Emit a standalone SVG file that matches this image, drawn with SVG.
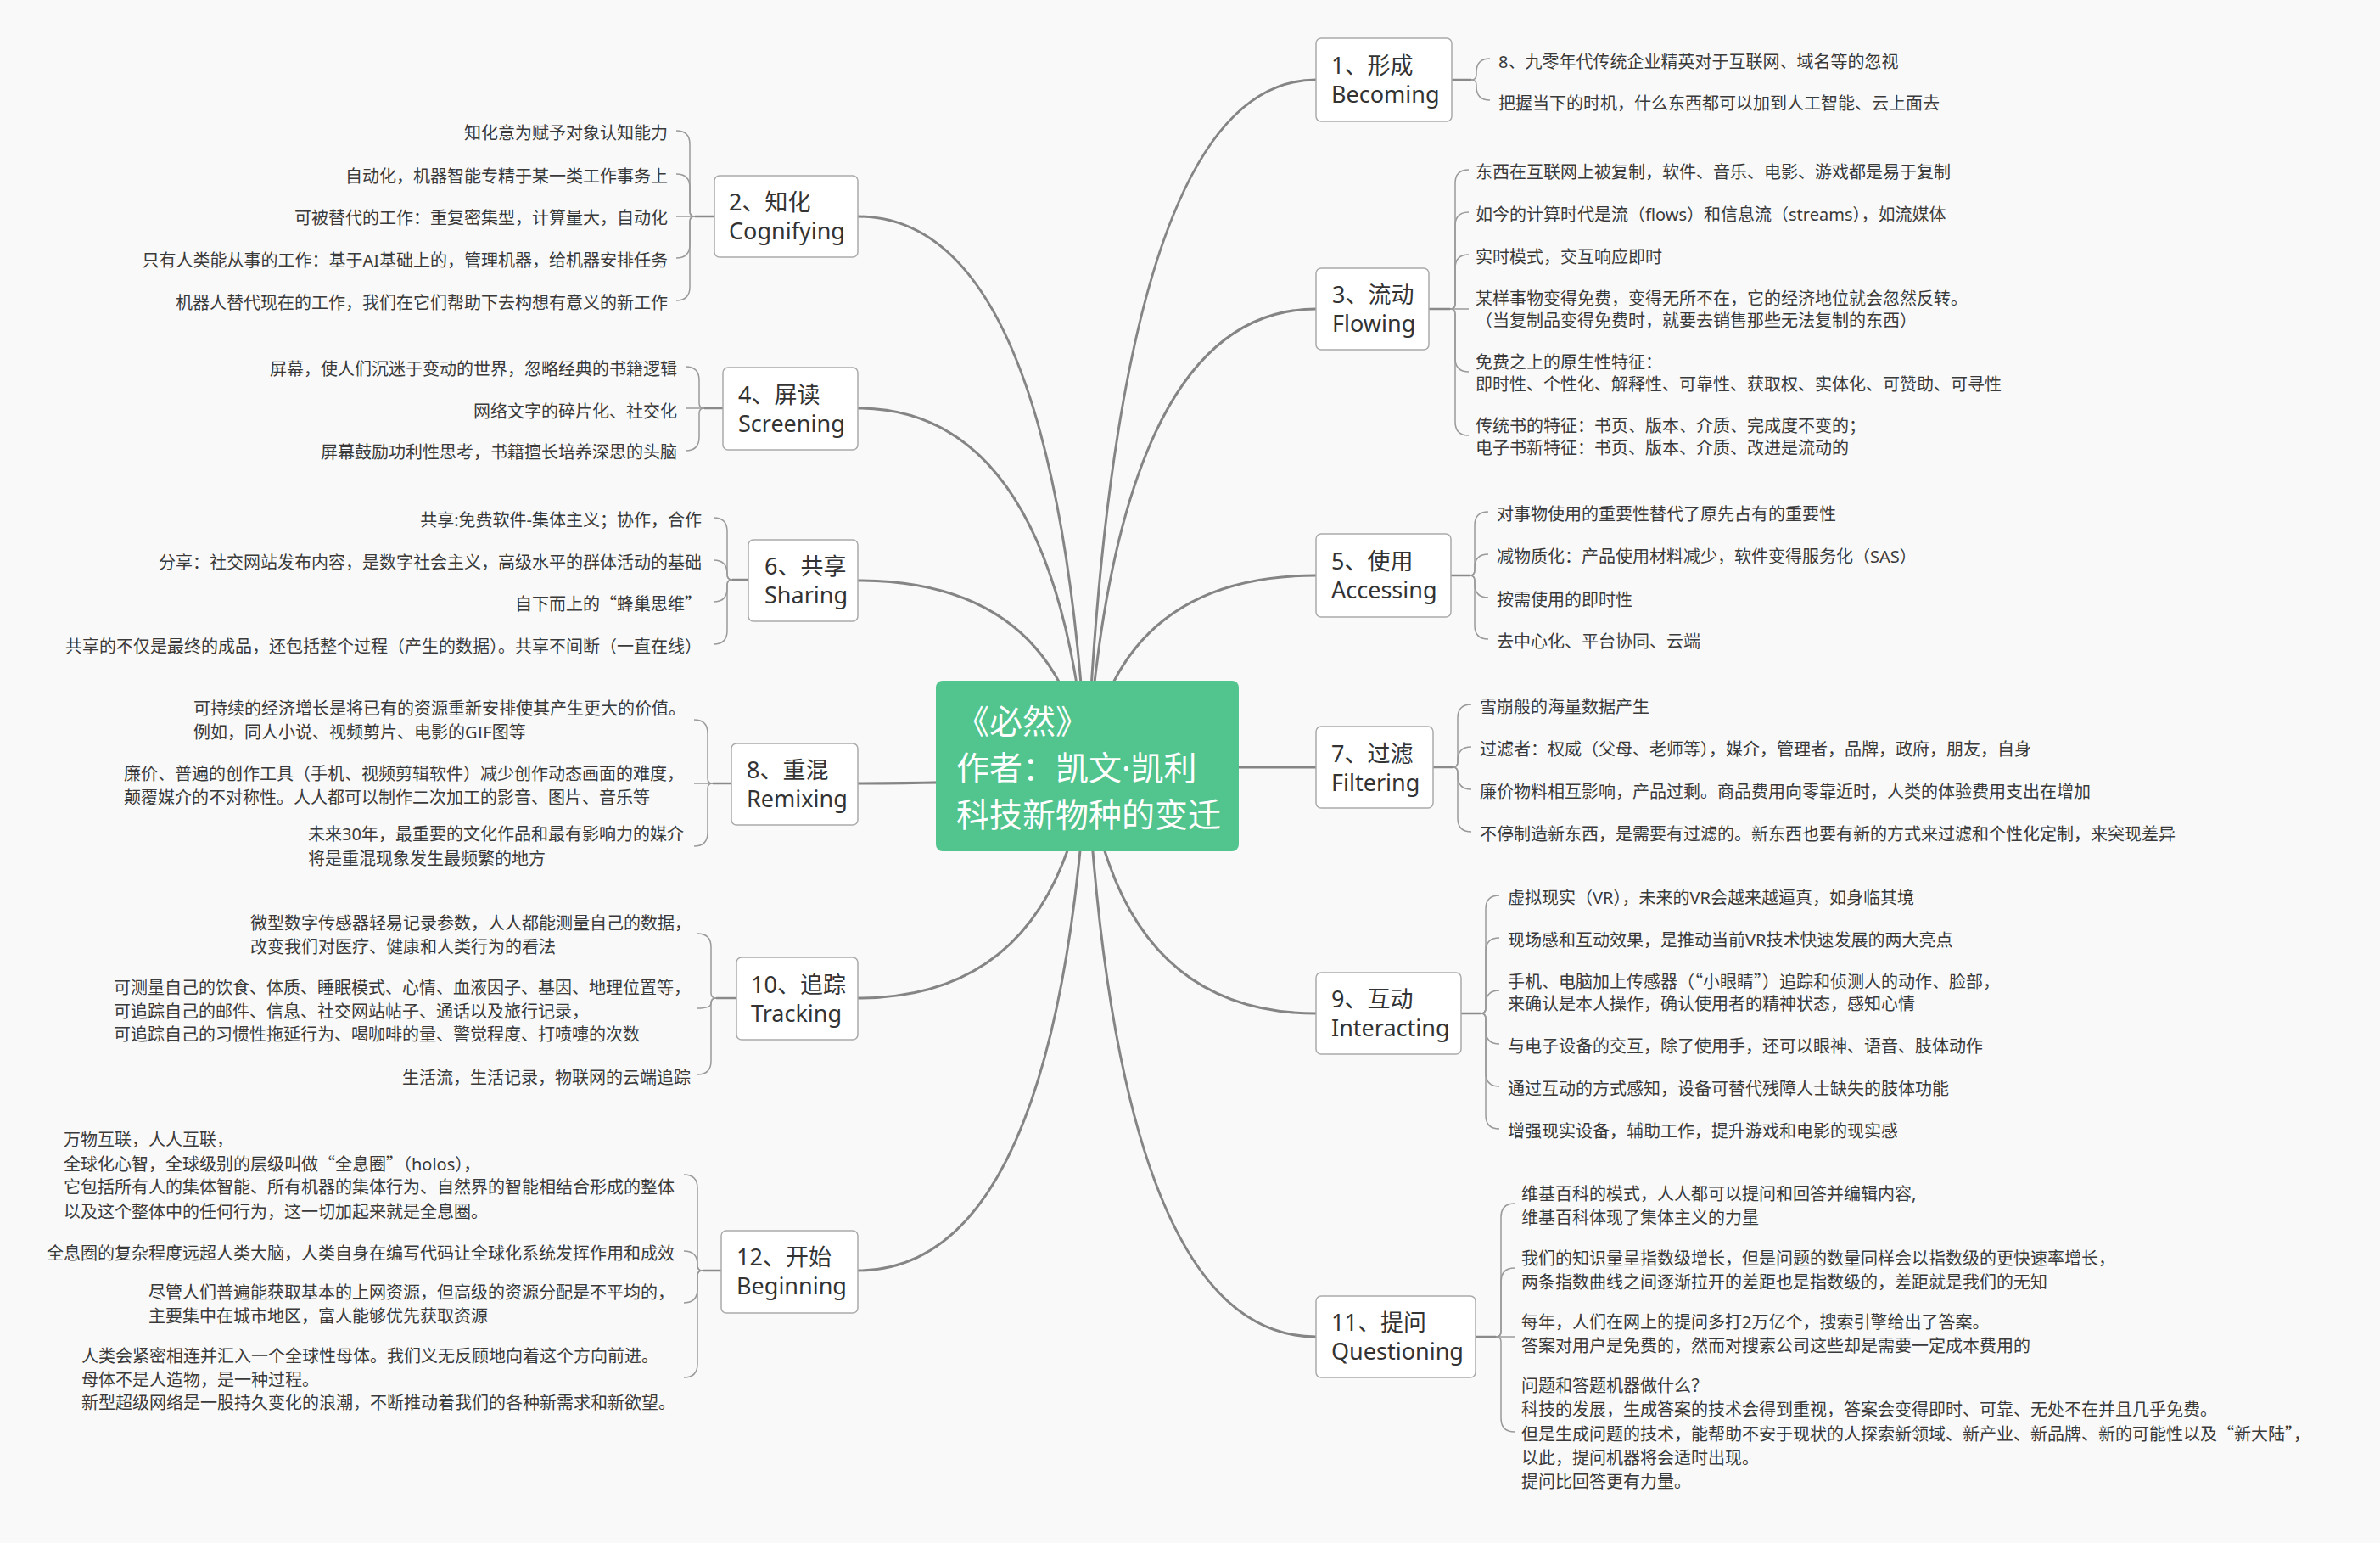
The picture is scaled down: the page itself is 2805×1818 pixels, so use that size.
<svg xmlns="http://www.w3.org/2000/svg" width="2805" height="1818" viewBox="0 0 2805 1818">
<style>
.bg{fill:#F9F9F9}
.main{fill:none;stroke:#858585;stroke-width:3;stroke-linecap:round}
.stub{fill:none;stroke:#8a8a8a;stroke-width:2.5}
.br{fill:none;stroke:#9a9a9a;stroke-width:1.5}
.box{fill:#ffffff;stroke:#aaaaaa;stroke-width:1.5}
.nt{font-family:"Noto Sans","Noto Sans CJK SC",sans-serif;font-size:27px;fill:#333333}
.lf{font-family:"Noto Sans","Noto Sans CJK SC",sans-serif;font-size:20px;fill:#3a3a3a}
.q{font-family:"Noto Sans CJK SC",sans-serif}
.end{text-anchor:end}
.ct{font-family:"Noto Sans","Noto Sans CJK SC",sans-serif;font-size:39px;fill:#ffffff}
</style>
<rect class="bg" x="0" y="0" width="2805" height="1818"/>
<g id="connectors">
<path class="main" d="M1281,903 Q1318,94 1551,94"/>
<path class="main" d="M1281,903 Q1318,364 1551,364"/>
<path class="main" d="M1281,903 Q1318,678 1551,678"/>
<path class="main" d="M1281,903 Q1318,904 1551,904"/>
<path class="main" d="M1281,903 Q1318,1194 1551,1194"/>
<path class="main" d="M1281,903 Q1318,1575 1551,1575"/>
<path class="main" d="M1281,903 Q1244,255 1011,255"/>
<path class="main" d="M1281,903 Q1244,481 1011,481"/>
<path class="main" d="M1281,903 Q1244,684 1011,684"/>
<path class="main" d="M1281,903 Q1244,923 1011,923"/>
<path class="main" d="M1281,903 Q1244,1176 1011,1176"/>
<path class="main" d="M1281,903 Q1244,1497 1011,1497"/>
<!-- node 1 -->
<path class="stub" d="M1711,94 L1734,94"/>
<path class="br" d="M1734,94 Q1740,94 1740,88 L1740,85 Q1740,69 1756,69"/>
<path class="br" d="M1734,94 Q1740,94 1740,100 L1740,102 Q1740,118 1756,118"/>
<!-- node 3 -->
<path class="stub" d="M1684,364 L1709,364"/>
<path class="br" d="M1709,364 Q1715,364 1715,358 L1715,216 Q1715,200 1731,200"/>
<path class="br" d="M1709,364 Q1715,364 1715,358 L1715,266 Q1715,250 1731,250"/>
<path class="br" d="M1709,364 Q1715,364 1715,358 L1715,316 Q1715,300 1731,300"/>
<path class="br" d="M1709,364 L1731,364"/>
<path class="br" d="M1709,364 Q1715,364 1715,370 L1715,422 Q1715,438 1731,438"/>
<path class="br" d="M1709,364 Q1715,364 1715,370 L1715,497 Q1715,513 1731,513"/>
<!-- node 5 -->
<path class="stub" d="M1710,678 L1732,678"/>
<path class="br" d="M1732,678 Q1738,678 1738,672 L1738,619 Q1738,603 1754,603"/>
<path class="br" d="M1732,678 Q1738,678 1738,672 L1738,669 Q1738,653 1754,653"/>
<path class="br" d="M1732,678 Q1738,678 1738,684 L1738,688 Q1738,704 1754,704"/>
<path class="br" d="M1732,678 Q1738,678 1738,684 L1738,737 Q1738,753 1754,753"/>
<!-- node 7 -->
<path class="stub" d="M1689,904 L1712,904"/>
<path class="br" d="M1712,904 Q1718,904 1718,898 L1718,846 Q1718,830 1734,830"/>
<path class="br" d="M1712,904 Q1718,904 1718,898 L1718,896 Q1718,880 1734,880"/>
<path class="br" d="M1712,904 Q1718,904 1718,910 L1718,914 Q1718,930 1734,930"/>
<path class="br" d="M1712,904 Q1718,904 1718,910 L1718,964 Q1718,980 1734,980"/>
<!-- node 9 -->
<path class="stub" d="M1722,1194 L1745,1194"/>
<path class="br" d="M1745,1194 Q1751,1194 1751,1188 L1751,1071 Q1751,1055 1767,1055"/>
<path class="br" d="M1745,1194 Q1751,1194 1751,1188 L1751,1121 Q1751,1105 1767,1105"/>
<path class="br" d="M1745,1194 Q1751,1194 1751,1188 L1751,1183 Q1751,1167 1767,1167"/>
<path class="br" d="M1745,1194 Q1751,1194 1751,1200 L1751,1214 Q1751,1230 1767,1230"/>
<path class="br" d="M1745,1194 Q1751,1194 1751,1200 L1751,1264 Q1751,1280 1767,1280"/>
<path class="br" d="M1745,1194 Q1751,1194 1751,1200 L1751,1314 Q1751,1330 1767,1330"/>
<!-- node 11 -->
<path class="stub" d="M1739,1575 L1763,1575"/>
<path class="br" d="M1763,1575 Q1769,1575 1769,1569 L1769,1434 Q1769,1418 1785,1418"/>
<path class="br" d="M1763,1575 Q1769,1575 1769,1569 L1769,1510 Q1769,1494 1785,1494"/>
<path class="br" d="M1763,1575 L1785,1575"/>
<path class="br" d="M1763,1575 Q1769,1575 1769,1581 L1769,1671 Q1769,1687 1785,1687"/>
<!-- node 2 -->
<path class="stub" d="M842,255 L819,255"/>
<path class="br" d="M819,255 Q813,255 813,249 L813,170 Q813,154 797,154"/>
<path class="br" d="M819,255 Q813,255 813,249 L813,221 Q813,205 797,205"/>
<path class="br" d="M819,255 L797,255"/>
<path class="br" d="M819,255 Q813,255 813,261 L813,288 Q813,304 797,304"/>
<path class="br" d="M819,255 Q813,255 813,261 L813,338 Q813,354 797,354"/>
<!-- node 4 -->
<path class="stub" d="M852,481 L830,481"/>
<path class="br" d="M830,481 Q824,481 824,475 L824,448 Q824,432 808,432"/>
<path class="br" d="M830,481 L808,481"/>
<path class="br" d="M830,481 Q824,481 824,487 L824,515 Q824,531 808,531"/>
<!-- node 6 -->
<path class="stub" d="M882,683 L863,683"/>
<path class="br" d="M863,683 Q857,683 857,677 L857,626 Q857,610 841,610"/>
<path class="br" d="M863,683 Q857,683 857,677 L857,676 Q857,660 841,660"/>
<path class="br" d="M863,683 Q857,683 857,689 L857,693 Q857,709 841,709"/>
<path class="br" d="M863,683 Q857,683 857,689 L857,743 Q857,759 841,759"/>
<!-- node 8 -->
<path class="stub" d="M862,923 L840,923"/>
<path class="br" d="M840,923 Q834,923 834,917 L834,864 Q834,848 818,848"/>
<path class="br" d="M840,923 L818,923"/>
<path class="br" d="M840,923 Q834,923 834,929 L834,981 Q834,997 818,997"/>
<!-- node 10 -->
<path class="stub" d="M868,1176 L844,1176"/>
<path class="br" d="M844,1176 Q838,1176 838,1170 L838,1116 Q838,1100 822,1100"/>
<path class="br" d="M844,1176 Q838,1176 838,1182 Q838,1188 822,1188"/>
<path class="br" d="M844,1176 Q838,1176 838,1182 L838,1250 Q838,1266 822,1266"/>
<!-- node 12 -->
<path class="stub" d="M850,1497 L828,1497"/>
<path class="br" d="M828,1497 Q822,1497 822,1491 L822,1400 Q822,1384 806,1384"/>
<path class="br" d="M828,1497 Q822,1497 822,1491 L822,1490 Q822,1474 806,1474"/>
<path class="br" d="M828,1497 Q822,1497 822,1503 L822,1519 Q822,1535 806,1535"/>
<path class="br" d="M828,1497 Q822,1497 822,1503 L822,1607 Q822,1623 806,1623"/>
</g>

<g id="root">
<rect x="1103" y="802" width="357" height="201" rx="8" fill="#52C48E"/>
<text class="ct" x="1127" y="864">《必然》</text>
<text class="ct" x="1127" y="919">作者：凯文·凯利</text>
<text class="ct" x="1127" y="974">科技新物种的变迁</text>
</g>

<g id="n1">
<rect class="box" x="1551" y="45" width="160" height="98" rx="6"/>
<text class="nt" x="1569" y="87">1、形成</text>
<text class="nt" x="1569" y="121">Becoming</text>
<text class="lf" x="1766" y="80">8、九零年代传统企业精英对于互联网、域名等的忽视</text>
<text class="lf" x="1766" y="129">把握当下的时机，什么东西都可以加到人工智能、云上面去</text>
</g>

<g id="n3">
<rect class="box" x="1551" y="316" width="133" height="96" rx="6"/>
<text class="nt" x="1570" y="357">3、流动</text>
<text class="nt" x="1570" y="391">Flowing</text>
<text class="lf" x="1739" y="210">东西在互联网上被复制，软件、音乐、电影、游戏都是易于复制</text>
<text class="lf" x="1739" y="260">如今的计算时代是流（flows）和信息流（streams），如流媒体</text>
<text class="lf" x="1739" y="310">实时模式，交互响应即时</text>
<text class="lf" x="1739" y="359">某样事物变得免费，变得无所不在，它的经济地位就会忽然反转。</text>
<text class="lf" x="1739" y="385">（当复制品变得免费时，就要去销售那些无法复制的东西）</text>
<text class="lf" x="1739" y="434">免费之上的原生性特征：</text>
<text class="lf" x="1739" y="460">即时性、个性化、解释性、可靠性、获取权、实体化、可赞助、可寻性</text>
<text class="lf" x="1739" y="509">传统书的特征：书页、版本、介质、完成度不变的；</text>
<text class="lf" x="1739" y="535">电子书新特征：书页、版本、介质、改进是流动的</text>
</g>

<g id="n5">
<rect class="box" x="1551" y="629" width="159" height="98" rx="6"/>
<text class="nt" x="1569" y="671">5、使用</text>
<text class="nt" x="1569" y="705">Accessing</text>
<text class="lf" x="1764" y="613">对事物使用的重要性替代了原先占有的重要性</text>
<text class="lf" x="1764" y="663">减物质化：产品使用材料减少，软件变得服务化（SAS）</text>
<text class="lf" x="1764" y="714">按需使用的即时性</text>
<text class="lf" x="1764" y="763">去中心化、平台协同、云端</text>
</g>

<g id="n7">
<rect class="box" x="1551" y="856" width="138" height="96" rx="6"/>
<text class="nt" x="1569" y="898">7、过滤</text>
<text class="nt" x="1569" y="932">Filtering</text>
<text class="lf" x="1744" y="840">雪崩般的海量数据产生</text>
<text class="lf" x="1744" y="890">过滤者：权威（父母、老师等），媒介，管理者，品牌，政府，朋友，自身</text>
<text class="lf" x="1744" y="940">廉价物料相互影响，产品过剩。商品费用向零靠近时，人类的体验费用支出在增加</text>
<text class="lf" x="1744" y="990">不停制造新东西，是需要有过滤的。新东西也要有新的方式来过滤和个性化定制，来突现差异</text>
</g>

<g id="n9">
<rect class="box" x="1551" y="1146" width="171" height="96" rx="6"/>
<text class="nt" x="1569" y="1187">9、互动</text>
<text class="nt" x="1569" y="1221">Interacting</text>
<text class="lf" x="1777" y="1065">虚拟现实（VR），未来的VR会越来越逼真，如身临其境</text>
<text class="lf" x="1777" y="1115">现场感和互动效果，是推动当前VR技术快速发展的两大亮点</text>
<text class="lf" x="1777" y="1164">手机、电脑加上传感器（<tspan class="q">“</tspan>小眼睛<tspan class="q">”</tspan>）追踪和侦测人的动作、脸部，</text>
<text class="lf" x="1777" y="1190">来确认是本人操作，确认使用者的精神状态，感知心情</text>
<text class="lf" x="1777" y="1240">与电子设备的交互，除了使用手，还可以眼神、语音、肢体动作</text>
<text class="lf" x="1777" y="1290">通过互动的方式感知，设备可替代残障人士缺失的肢体功能</text>
<text class="lf" x="1777" y="1340">增强现实设备，辅助工作，提升游戏和电影的现实感</text>
</g>

<g id="n11">
<rect class="box" x="1551" y="1527" width="188" height="96" rx="6"/>
<text class="nt" x="1569" y="1568">11、提问</text>
<text class="nt" x="1569" y="1602">Questioning</text>
<text class="lf" x="1793" y="1414">维基百科的模式，人人都可以提问和回答并编辑内容,</text>
<text class="lf" x="1793" y="1442">维基百科体现了集体主义的力量</text>
<text class="lf" x="1793" y="1490">我们的知识量呈指数级增长，但是问题的数量同样会以指数级的更快速率增长，</text>
<text class="lf" x="1793" y="1518">两条指数曲线之间逐渐拉开的差距也是指数级的，差距就是我们的无知</text>
<text class="lf" x="1793" y="1565">每年，人们在网上的提问多打2万亿个，搜索引擎给出了答案。</text>
<text class="lf" x="1793" y="1593">答案对用户是免费的，然而对搜索公司这些却是需要一定成本费用的</text>
<text class="lf" x="1793" y="1640">问题和答题机器做什么？</text>
<text class="lf" x="1793" y="1668">科技的发展，生成答案的技术会得到重视，答案会变得即时、可靠、无处不在并且几乎免费。</text>
<text class="lf" x="1793" y="1697">但是生成问题的技术，能帮助不安于现状的人探索新领域、新产业、新品牌、新的可能性以及<tspan class="q">“</tspan>新大陆<tspan class="q">”</tspan>，</text>
<text class="lf" x="1793" y="1725">以此，提问机器将会适时出现。</text>
<text class="lf" x="1793" y="1753">提问比回答更有力量。</text>
</g>

<g id="n2">
<rect class="box" x="842" y="207" width="169" height="96" rx="6"/>
<text class="nt" x="859" y="248">2、知化</text>
<text class="nt" x="859" y="282">Cognifying</text>
<text class="lf end" x="787" y="164">知化意为赋予对象认知能力</text>
<text class="lf end" x="787" y="215">自动化，机器智能专精于某一类工作事务上</text>
<text class="lf end" x="787" y="264">可被替代的工作：重复密集型，计算量大，自动化</text>
<text class="lf end" x="787" y="314">只有人类能从事的工作：基于AI基础上的，管理机器，给机器安排任务</text>
<text class="lf end" x="787" y="364">机器人替代现在的工作，我们在它们帮助下去构想有意义的新工作</text>
</g>

<g id="n4">
<rect class="box" x="852" y="433" width="159" height="97" rx="6"/>
<text class="nt" x="870" y="475">4、屏读</text>
<text class="nt" x="870" y="509">Screening</text>
<text class="lf end" x="798" y="442">屏幕，使人们沉迷于变动的世界，忽略经典的书籍逻辑</text>
<text class="lf end" x="798" y="492">网络文字的碎片化、社交化</text>
<text class="lf end" x="798" y="540">屏幕鼓励功利性思考，书籍擅长培养深思的头脑</text>
</g>

<g id="n6">
<rect class="box" x="882" y="636" width="129" height="96" rx="6"/>
<text class="nt" x="901" y="677">6、共享</text>
<text class="nt" x="901" y="711">Sharing</text>
<text class="lf end" x="827" y="620">共享:免费软件-集体主义；协作，合作</text>
<text class="lf end" x="827" y="670">分享：社交网站发布内容，是数字社会主义，高级水平的群体活动的基础</text>
<text class="lf end" x="827" y="719">自下而上的<tspan class="q">“</tspan>蜂巢思维<tspan class="q">”</tspan></text>
<text class="lf end" x="827" y="769">共享的不仅是最终的成品，还包括整个过程（产生的数据）。共享不间断（一直在线）</text>
</g>

<g id="n8">
<rect class="box" x="862" y="876" width="149" height="96" rx="6"/>
<text class="nt" x="880" y="917">8、重混</text>
<text class="nt" x="880" y="951">Remixing</text>
<text class="lf" x="228" y="842">可持续的经济增长是将已有的资源重新安排使其产生更大的价值。</text>
<text class="lf" x="228" y="870">例如，同人小说、视频剪片、电影的GIF图等</text>
<text class="lf" x="146" y="919">廉价、普遍的创作工具（手机、视频剪辑软件）减少创作动态画面的难度，</text>
<text class="lf" x="146" y="947">颠覆媒介的不对称性。人人都可以制作二次加工的影音、图片、音乐等</text>
<text class="lf" x="363" y="990">未来30年，最重要的文化作品和最有影响力的媒介</text>
<text class="lf" x="363" y="1019">将是重混现象发生最频繁的地方</text>
</g>

<g id="n10">
<rect class="box" x="868" y="1128" width="143" height="97" rx="6"/>
<text class="nt" x="885" y="1170">10、追踪</text>
<text class="nt" x="885" y="1204">Tracking</text>
<text class="lf" x="295" y="1095">微型数字传感器轻易记录参数，人人都能测量自己的数据，</text>
<text class="lf" x="295" y="1123">改变我们对医疗、健康和人类行为的看法</text>
<text class="lf" x="134" y="1171">可测量自己的饮食、体质、睡眠模式、心情、血液因子、基因、地理位置等，</text>
<text class="lf" x="134" y="1199">可追踪自己的邮件、信息、社交网站帖子、通话以及旅行记录，</text>
<text class="lf" x="134" y="1226">可追踪自己的习惯性拖延行为、喝咖啡的量、警觉程度、打喷嚏的次数</text>
<text class="lf end" x="814" y="1277">生活流，生活记录，物联网的云端追踪</text>
</g>

<g id="n12">
<rect class="box" x="850" y="1450" width="161" height="97" rx="6"/>
<text class="nt" x="868" y="1491">12、开始</text>
<text class="nt" x="868" y="1525">Beginning</text>
<text class="lf" x="75" y="1350">万物互联，人人互联，</text>
<text class="lf" x="75" y="1379">全球化心智，全球级别的层级叫做<tspan class="q">“</tspan>全息圈<tspan class="q">”</tspan>（holos），</text>
<text class="lf" x="75" y="1406">它包括所有人的集体智能、所有机器的集体行为、自然界的智能相结合形成的整体</text>
<text class="lf" x="75" y="1435">以及这个整体中的任何行为，这一切加起来就是全息圈。</text>
<text class="lf end" x="795" y="1484">全息圈的复杂程度远超人类大脑，人类自身在编写代码让全球化系统发挥作用和成效</text>
<text class="lf" x="175" y="1530">尽管人们普遍能获取基本的上网资源，但高级的资源分配是不平均的，</text>
<text class="lf" x="175" y="1558">主要集中在城市地区，富人能够优先获取资源</text>
<text class="lf" x="96" y="1605">人类会紧密相连并汇入一个全球性母体。我们义无反顾地向着这个方向前进。</text>
<text class="lf" x="96" y="1633">母体不是人造物，是一种过程。</text>
<text class="lf" x="96" y="1660">新型超级网络是一股持久变化的浪潮，不断推动着我们的各种新需求和新欲望。</text>
</g>
</svg>
